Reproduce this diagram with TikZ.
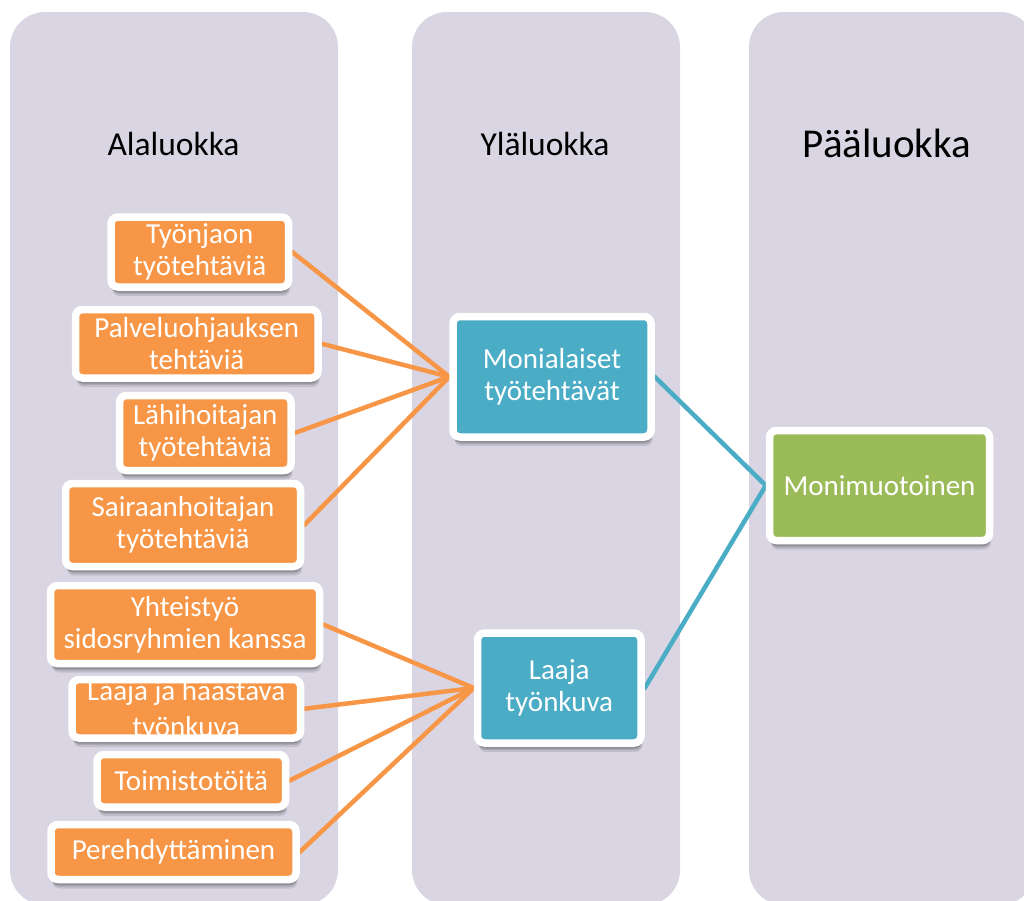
\documentclass[tikz,border=0pt]{standalone}
\usepackage{fontspec}
\setmainfont{Carlito}
\usetikzlibrary{shadows,calc}
\pgfdeclarelayer{panels}
\pgfdeclarelayer{links}
\pgfsetlayers{panels,links,main}

\definecolor{panelfill}{HTML}{D9D5E3}
\definecolor{subfill}{HTML}{F79646}
\definecolor{midfill}{HTML}{4BACC6}
\definecolor{topfill}{HTML}{9BBB59}

\begin{document}
\begin{tikzpicture}[x=1pt,y=-1pt,
  softshadow/.style={
    general shadow={fill=black, opacity=0.10, shadow xshift=1.5pt, shadow yshift=-9pt},
    general shadow={fill=black, opacity=0.12, shadow xshift=1pt, shadow yshift=-7pt},
    general shadow={fill=black, opacity=0.15, shadow xshift=0.5pt, shadow yshift=-5.5pt}},
  box/.style={draw=white, line width=7.5pt, rounded corners=7pt, inner sep=0pt,
    align=center, text=white, font=\fontsize{29}{32}\selectfont, softshadow},
  subbox/.style={box, fill=subfill},
  midbox/.style={box, fill=midfill},
  topbox/.style={box, fill=topfill},
  head/.style={anchor=base, text=black, inner sep=0pt},
  olink/.style={draw=subfill, line width=4.5pt, line cap=round},
  blink/.style={draw=midfill, line width=4.5pt, line cap=round}]

\clip (0,0) rectangle (1024,900);

% three columns
\begin{pgfonlayer}{panels}
  \fill[panelfill, rounded corners=35pt] (10,12) rectangle (338,905);
  \fill[panelfill, rounded corners=35pt] (412,12) rectangle (680,905);
  \fill[panelfill, rounded corners=35pt] (749,12) rectangle (1035,905);
\end{pgfonlayer}

% column headings
\node[head, font=\fontsize{33.5}{38}\selectfont] (hA) at (173.5,155) {Alaluokka};
\node[head, font=\fontsize{33.5}{38}\selectfont] (hY) at (545,155) {Yläluokka};
\node[head, font=\fontsize{41}{46}\selectfont] (hP) at (887,157) {Pääluokka};

% subcategories
\node[subbox, minimum width=177.5pt, minimum height=70pt]   (a1) at (199.75,252)  {Työnjaon\\työtehtäviä};
\node[subbox, minimum width=242.5pt, minimum height=68.5pt] (a2) at (196.75,343.75) {Palveluohjauksen\\tehtäviä};
\node[subbox, minimum width=171.5pt, minimum height=75pt]   (a3) at (205.25,433)  {Lähihoitajan\\työtehtäviä};
\node[subbox, minimum width=235pt,   minimum height=83pt]   (a4) at (183,525)     {Sairaanhoitajan\\työtehtäviä};
\node[subbox, minimum width=269pt,   minimum height=78pt]   (b1) at (185,624.5)   {Yhteistyö\\sidosryhmien kanssa};
\node[subbox, minimum width=228.5pt, minimum height=58.5pt] (b2) at (186.25,708.75) {};
\node[subbox, minimum width=188.5pt, minimum height=52.5pt] (b3) at (191.25,780.75) {Toimistotöitä};
\node[subbox, minimum width=245pt,   minimum height=55pt]   (b4) at (173.5,852)   {Perehdyttäminen};

% the text of this box is cut off at its coloured area
\begin{scope}
  \clip ($(b2.south west)+(3.75pt,3.75pt)$) rectangle ($(b2.north east)-(3.75pt,3.75pt)$);
  \node[align=center, text=white, inner sep=0pt, font=\fontsize{29}{36}\selectfont] (b2t) at (186.25,710.5) {Laaja ja haastava\\työnkuva};
\end{scope}

% upper categories
\node[midbox, minimum width=198pt,   minimum height=120.5pt] (M) at (552,376.75) {Monialaiset\\työtehtävät};
\node[midbox, minimum width=163.5pt, minimum height=110pt]   (L) at (559.25,688)  {Laaja\\työnkuva};

% main category
\node[topbox, minimum width=220pt, minimum height=110pt] (G) at (879.5,485.5) {Monimuotoinen};

% connectors
\begin{pgfonlayer}{links}
  \foreach \n in {a1,a2,a3,a4} \draw[olink] (\n.east) -- (M.west);
  \foreach \n in {b1,b2,b3,b4} \draw[olink] (\n.east) -- (L.west);
  \draw[blink] (M.east) -- (G.west);
  \draw[blink] (L.east) -- (G.west);
\end{pgfonlayer}
\end{tikzpicture}
\end{document}
